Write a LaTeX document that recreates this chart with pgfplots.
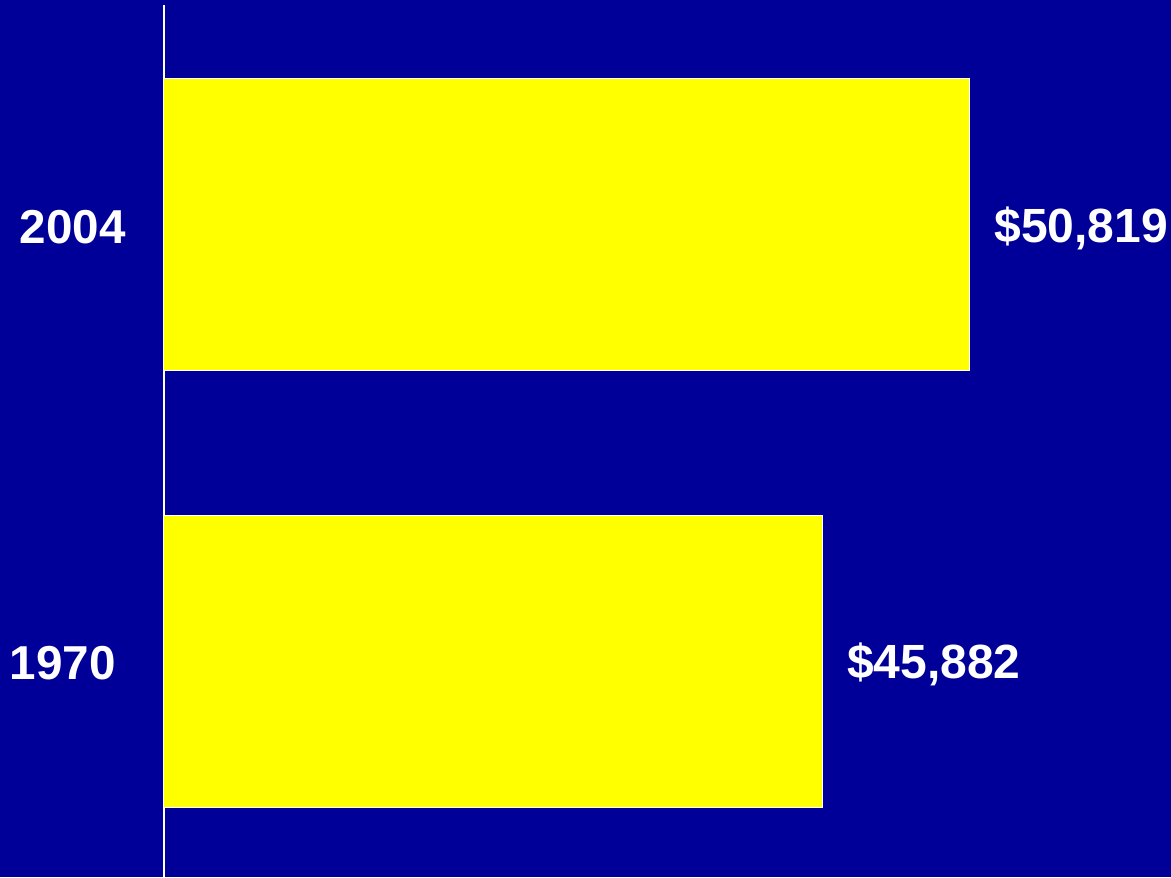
\documentclass[border=0pt]{standalone}
\usepackage{fontspec}
\setmainfont{Liberation Sans}
\usepackage{pgfplots}
\pgfplotsset{compat=1.18}
\definecolor{SlideBlue}{HTML}{000099}
\definecolor{BarYellow}{HTML}{FFFF00}

\begin{document}
\begin{tikzpicture}
  \useasboundingbox (0,0) rectangle (585.5pt,438.5pt);
  \fill[SlideBlue] (0,0) rectangle (585.5pt,438.5pt);
  \begin{axis}[
    at={(82pt,0pt)}, anchor=south west,
    scale only axis,
    width=503.5pt, height=436pt,
    xbar,
    bar width=146pt,
    xmin=23800, xmax=57560,
    ymin=-0.4954, ymax=1.5046,
    axis x line=none,
    axis y line=left,
    y axis line style={-, white, line width=0.8pt},
    ytick={0,1},
    yticklabels={1970\rule{5pt}{0pt}, 2004},
    ytick style={draw=none},
    major tick length=0pt,
    yticklabel style={font=\fontsize{23.8}{28}\selectfont\bfseries, text=white, inner sep=0pt, xshift=-19pt, yshift=-1pt},
    nodes near coords={\$\pgfmathprintnumber{\pgfplotspointmeta}},
    nodes near coords style={font=\fontsize{24}{28}\selectfont\bfseries, text=white, anchor=west, inner sep=0pt, xshift=12pt, yshift=-1.5pt,
      /pgf/number format/.cd, 1000 sep={,}, assume math mode=true},
  ]
    \addplot[fill=BarYellow, draw=white, line width=0.5pt] coordinates {
      (45882,0) (50819,1)
    };
  \end{axis}
\end{tikzpicture}
\end{document}
